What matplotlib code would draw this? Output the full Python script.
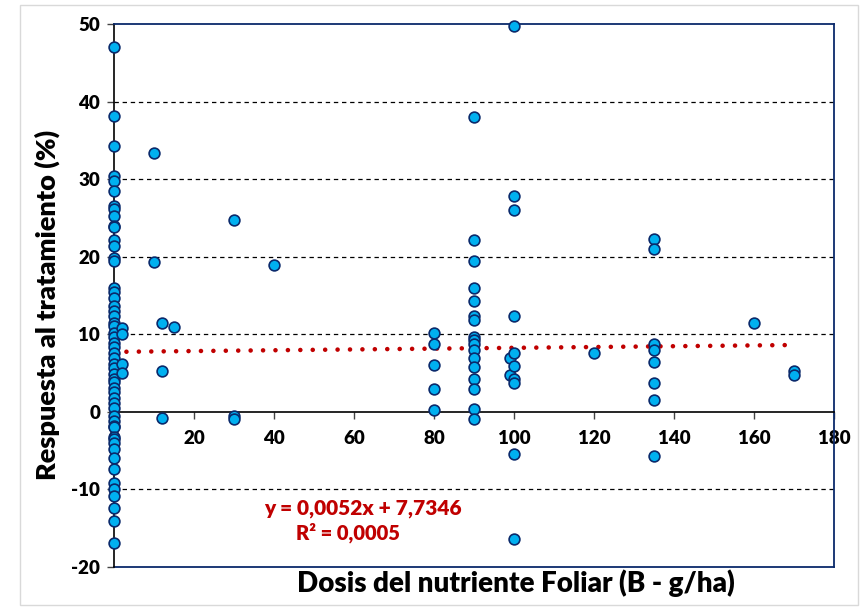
import matplotlib
matplotlib.use("Agg")
import matplotlib.pyplot as plt
from matplotlib.patches import Rectangle
import numpy as np

# ---- data ----
resp_dose0 = [47.0, 38.1, 34.3, 30.4, 29.8, 28.5, 26.5, 26.1, 25.3, 24.0, 23.8,
              22.1, 21.4, 19.8, 19.4, 16.0, 15.4, 14.7, 13.7, 13.0, 12.4, 11.5,
              11.1, 10.2, 9.6, 8.9, 8.3, 7.6, 7.0, 6.2, 5.6, 4.9, 4.3, 3.8, 3.1,
              2.5, 1.8, 1.2, 0.5, -0.5, -1.2, -1.8, -2.0, -3.2, -3.5, -4.0, -4.8,
              -6.0, -7.4, -9.2, -10.0, -10.9, -12.4, -14.1, -16.9]
resp_dose2 = [10.8, 10.0, 6.2, 5.0]
resp_dose10 = [33.4, 19.3]
resp_dose12 = [11.5, 5.3, -0.8]
resp_dose15 = [10.9]
resp_dose30 = [24.7, -0.5, -0.9]
resp_dose40 = [18.9]
resp_dose80 = [10.2, 8.8, 6.1, 3.0, 0.3]
resp_dose90 = [38.0, 22.1, 19.5, 16.0, 14.3, 12.4, 11.8, 9.6, 9.2, 8.8, 8.0,
               7.0, 5.8, 4.3, 3.0, 0.4, -0.9]
resp_dose99 = [7.0, 4.8]
resp_dose100 = [49.7, 27.8, 26.0, 12.3, 7.6, 5.9, 4.3, 3.7, -5.4, -16.4]
resp_dose120 = [7.6]
resp_dose135 = [22.3, 21.0, 8.8, 8.0, 6.4, 3.7, 1.5, -5.7]
resp_dose160 = [11.4]
resp_dose170 = [5.3, 4.7]

groups = [(0, resp_dose0), (2, resp_dose2), (10, resp_dose10), (12, resp_dose12),
          (15, resp_dose15), (30, resp_dose30), (40, resp_dose40),
          (80, resp_dose80), (90, resp_dose90), (99, resp_dose99),
          (100, resp_dose100), (120, resp_dose120), (135, resp_dose135),
          (160, resp_dose160), (170, resp_dose170)]

slope = 0.0052
intercept = 7.7346
trend_x = [0, 170]
eq_text = "y = 0,0052x + 7,7346"
r2_text = "R² = 0,0005"

x_ticks = [0, 20, 40, 60, 80, 100, 120, 140, 160, 180]
y_ticks = [-20, -10, 0, 10, 20, 30, 40, 50]
grid_levels = [-10, 10, 20, 30, 40]

xlabel = "Dosis del nutriente Foliar (B - g/ha)"
ylabel = "Respuesta al tratamiento (%)"

# ---- build arrays ----
xs = np.concatenate([[d] * len(v) for d, v in groups]).astype(float)
ys = np.concatenate([v for d, v in groups]).astype(float)

plt.rcParams['font.family'] = ['Lato', 'DejaVu Sans']
plt.rcParams['axes.unicode_minus'] = False
W = 'heavy'

fig = plt.figure(figsize=(8.63, 6.09), dpi=100)
fig.patch.set_facecolor('white')
fig.add_artist(Rectangle((20 / 863, 4 / 609), 838 / 863, 600 / 609,
                         transform=fig.transFigure, fill=False,
                         edgecolor='#D9D9D9', linewidth=1.0))

ax = fig.add_axes([114 / 863, 1 - 567 / 609, 720 / 863, 543 / 609])
ax.set_xlim(0, 180)
ax.set_ylim(-20, 50)

navy = '#0B2A6B'
for lv in grid_levels:
    ax.axhline(lv, color='black', linewidth=0.9, linestyle=(0, (3.5, 3.0)), zorder=1)

# spines
ax.spines['left'].set_color('black')
ax.spines['left'].set_linewidth(1.2)
ax.spines['bottom'].set_position(('data', 0))
ax.spines['bottom'].set_color('black')
ax.spines['bottom'].set_linewidth(1.2)
ax.spines['top'].set_color(navy)
ax.spines['top'].set_linewidth(1.3)
ax.spines['right'].set_color(navy)
ax.spines['right'].set_linewidth(1.3)
ax.plot([0, 1], [0, 0], transform=ax.transAxes, color=navy, linewidth=1.3,
        clip_on=False, zorder=2)

ax.set_xticks(x_ticks)
ax.set_yticks(y_ticks)
ax.tick_params(axis='both', direction='out', length=5, width=1.0,
               labelsize=13.5, color='#444444')
ax.tick_params(axis='x', pad=8)
ax.tick_params(axis='y', pad=5)
for lab in ax.get_xticklabels() + ax.get_yticklabels():
    lab.set_fontweight(W)

# trend line
tx = np.linspace(trend_x[0], trend_x[1], 50)
ax.plot(tx, slope * tx + intercept, color='#C00000', linewidth=3.3,
        linestyle=(0, (0.01, 2.7)), dash_capstyle='round', zorder=3)

# points
ax.scatter(xs, ys, s=60, facecolor='#00B0F0', edgecolor=navy, linewidths=1.2,
           zorder=4, clip_on=False)

ax.text(363 / 863, 1 - 508 / 609, eq_text, transform=fig.transFigure,
        ha='center', va='center', color='#C00000', fontsize=15, fontweight=W)
ax.text(348 / 863, 1 - 533 / 609, r2_text, transform=fig.transFigure,
        ha='center', va='center', color='#C00000', fontsize=14.5, fontweight=W)

fig.text(516 / 863, 1 - 583 / 609, xlabel, ha='center', va='center',
         fontsize=20, fontweight=W)
fig.text(47 / 863, 1 - 305 / 609, ylabel, ha='center', va='center',
         fontsize=19.5, fontweight=W, rotation=90)

fig.savefig('out.png', dpi=100, facecolor='white')
